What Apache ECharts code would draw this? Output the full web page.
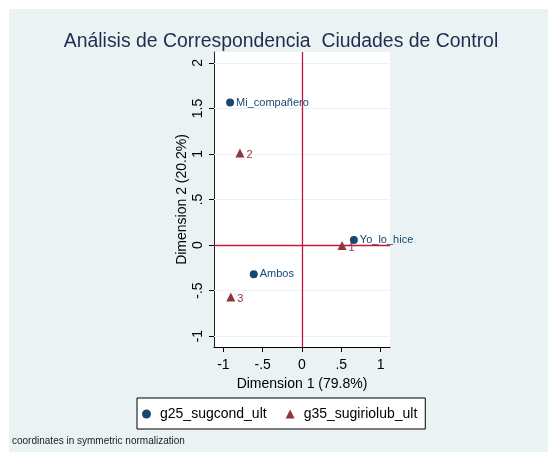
<!DOCTYPE html>
<html>
<head>
<meta charset="utf-8">
<script src="https://cdn.jsdelivr.net/npm/echarts@6/dist/echarts.min.js"></script>
<style>html,body{margin:0;padding:0;background:#fff;}#c{width:548px;height:461px;}</style>
</head>
<body>
<div id="c"></div>
<script>
// ---- data ----
const seriesNames = ['g25_sugcond_ult', 'g35_sugiriolub_ult'];
const g25Labels = ['Mi_compañero', 'Yo_lo_hice', 'Ambos'];
const g25X = [-0.915, 0.66, -0.614];
const g25Y = [1.565, 0.055, -0.32];
const g35Labels = ['1', '2', '3'];
const g35X = [0.51, -0.79, -0.906];
const g35Y = [-0.005, 1.01, -0.57];
const xTicks = [-1, -0.5, 0, 0.5, 1];
const yTicks = [-1, -0.5, 0, 0.5, 1, 1.5, 2];
const titleText = 'Análisis de Correspondencia  Ciudades de Control';
const xName = 'Dimension 1 (79.8%)';
const yName = 'Dimension 2 (20.2%)';
const noteText = 'coordinates in symmetric normalization';

const FONT = '"Liberation Sans", Arial, sans-serif';
const fmt = v => { let s = String(v); if (s.startsWith('0.')) s = s.slice(1); else if (s.startsWith('-0.')) s = '-' + s.slice(2); return s; };

const chart = echarts.init(document.getElementById('c'), null, { renderer: 'canvas' });
const navy = '#1a476f', maroon = '#90353b', red = '#c8143c';

chart.setOption({
  animation: false,
  textStyle: { fontFamily: FONT },
  graphic: [
    { type: 'rect', shape: { x: 9, y: 9, width: 539, height: 443 }, style: { fill: '#eaf2f3' }, z: -10 },
    { type: 'text', left: 12, top: 436, style: { text: noteText, font: '10px ' + FONT, fill: '#222' } }
  ],
  title: {
    text: titleText, left: 276, textAlign: 'center', top: 27,
    textStyle: { fontSize: 19.4, fontWeight: 'normal', color: '#1c2d4f', fontFamily: FONT }
  },
  legend: {
    left: 137, top: 398, width: 290,
    padding: [9, 8, 8, 5], itemGap: 19,
    backgroundColor: '#fff', borderColor: '#000', borderWidth: 1, borderRadius: 0,
    itemWidth: 9, itemHeight: 9,
    textStyle: { fontSize: 14, color: '#000', fontFamily: FONT, padding: [0, 0, 0, 4] },
    data: [
      { name: seriesNames[0], icon: 'circle', itemStyle: { color: navy } },
      { name: seriesNames[1], icon: 'triangle', itemStyle: { color: maroon } }
    ]
  },
  grid: { left: 214, right: 158, top: 52, bottom: 114, show: true, backgroundColor: '#fff', borderWidth: 0 },
  xAxis: {
    type: 'value', min: -1.12, max: 1.12,
    name: xName, nameLocation: 'middle', nameGap: 30,
    nameTextStyle: { fontSize: 14, color: '#000', fontFamily: FONT },
    axisLine: { show: true, onZero: false, lineStyle: { color: '#000', width: 1 } },
    axisTick: { show: true, length: 5, customValues: xTicks, lineStyle: { color: '#000' } },
    axisLabel: { customValues: xTicks, formatter: fmt, fontSize: 14, color: '#000', margin: 11, fontFamily: FONT },
    splitLine: { show: false }
  },
  yAxis: {
    type: 'value', min: -1.12, max: 2.12,
    name: yName, nameLocation: 'middle', nameGap: 25, nameRotate: 90,
    nameTextStyle: { fontSize: 14, color: '#000', fontFamily: FONT },
    axisLine: { show: true, onZero: false, lineStyle: { color: '#222', width: 1 } },
    axisTick: { show: true, length: 5, customValues: yTicks, lineStyle: { color: '#000' } },
    axisLabel: { customValues: yTicks, formatter: fmt, fontSize: 14, color: '#000', margin: 9, rotate: 90, fontFamily: FONT },
    splitLine: { show: false }
  },
  series: [
    {
      name: 'grid', type: 'scatter', data: [], silent: true,
      markLine: {
        silent: true, symbol: 'none', label: { show: false },
        lineStyle: { color: '#eaf2f3', width: 1, type: 'solid' },
        data: yTicks.map(v => ({ yAxis: v }))
      }
    },
    {
      name: 'ref', type: 'scatter', data: [], silent: true, z: 3,
      markLine: {
        silent: true, symbol: 'none', label: { show: false },
        lineStyle: { color: red, width: 1.3, type: 'solid' },
        data: [{ xAxis: 0 }, { yAxis: 0 }]
      }
    },
    {
      name: seriesNames[0], type: 'scatter', symbol: 'circle', symbolSize: 8, z: 5,
      itemStyle: { color: navy, opacity: 1 },
      label: { show: true, position: 'right', distance: 2, color: navy, fontSize: 11, fontFamily: FONT, formatter: p => g25Labels[p.dataIndex] },
      data: g25X.map((x, i) => [x, g25Y[i]])
    },
    {
      name: seriesNames[1], type: 'scatter', symbol: 'triangle', symbolSize: 9, z: 5,
      itemStyle: { color: maroon, opacity: 1 },
      label: { show: true, position: 'right', distance: 2, color: maroon, fontSize: 11, fontFamily: FONT, offset: [0, 2], formatter: p => g35Labels[p.dataIndex] },
      data: g35X.map((x, i) => [x, g35Y[i]])
    }
  ]
});
</script>
</body>
</html>
